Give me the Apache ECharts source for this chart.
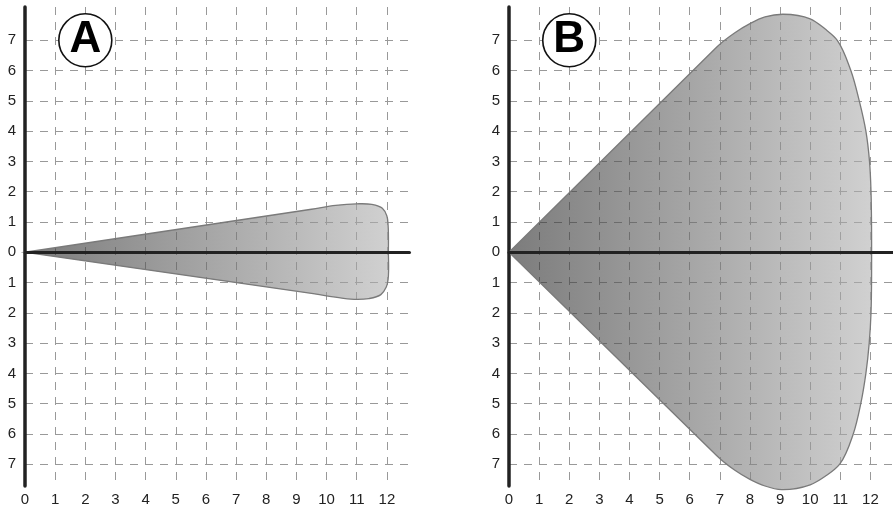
<!DOCTYPE html>
<html><head><meta charset="utf-8">
<script src="https://cdn.jsdelivr.net/npm/echarts@6/dist/echarts.min.js"></script>
<style>html,body{margin:0;padding:0;background:#fff}#c{width:893px;height:507px}</style>
</head><body><div id="c"></div>
<script>
// ---- data ----
const xTickValues = [0,1,2,3,4,5,6,7,8,9,10,11,12];
const yTickValues = [-7,-6,-5,-4,-3,-2,-1,0,1,2,3,4,5,6,7];
const panelLetters = ['A','B'];
const badgeAt = [2, 7];
// outline of shape A: origin -> upper edge -> right end -> lower edge (closes back to origin)
const aOutlineX = [0, 9.5, 10.3, 11.0, 11.5, 11.85, 12.0, 12.04, 12.05, 12.04, 11.98, 11.8, 11.4, 10.8, 10.0, 9.5];
const aOutlineY = [0, 1.42, 1.55, 1.60, 1.58, 1.45, 1.20, 0.90, 0, -0.90, -1.15, -1.40, -1.53, -1.55, -1.44, -1.36];
// outline of shape B
const bOutlineX = [0, 6.9, 7.5, 8.0, 8.5, 9.1, 10.0, 10.5, 10.9, 11.35, 11.63, 11.85, 11.97, 12.02, 12.04, 12.02, 11.96, 11.85, 11.68, 11.43, 10.98, 10.5, 10.0, 9.05, 8.5, 8.0, 7.5, 6.9];
const bOutlineY = [0, 6.78, 7.25, 7.55, 7.77, 7.86, 7.71, 7.37, 7.0, 6.0, 5.0, 4.0, 3.0, 2.0, 0, -2.0, -3.0, -4.0, -5.0, -6.0, -7.0, -7.40, -7.68, -7.84, -7.72, -7.50, -7.20, -6.72];

// ---- rendering helpers ----
const FONT = 'Liberation Sans, Arial, Helvetica, sans-serif';
const gridColor = '#999999';
function sub(a,b){return [a[0]-b[0],a[1]-b[1]];}
function add(a,b){return [a[0]+b[0],a[1]+b[1]];}
function len(a){return Math.sqrt(a[0]*a[0]+a[1]*a[1]);}
function unit(a){const l=len(a)||1;return [a[0]/l,a[1]/l];}
function makeShape(xs, ys) {
  return function (params, api) {
    if (params.dataIndex !== 0) return null;
    const p = xs.map((x, i) => api.coord([x, ys[i]]));
    const n = p.length;
    const U = [];
    for (let i = 1; i < n; i++) {
      if (i === 1) U[i] = unit(sub(p[1], p[0]));
      else if (i === n - 1) U[i] = unit(sub(p[0], p[n-1]));
      else U[i] = unit(add(unit(sub(p[i], p[i-1])), unit(sub(p[i+1], p[i]))));
    }
    let d = 'M' + p[0][0] + ',' + p[0][1] + ' L' + p[1][0] + ',' + p[1][1];
    for (let i = 1; i < n - 1; i++) {
      const a = p[i], b = p[i+1];
      const s = len(sub(b, a)) / 3;
      d += ' C' + (a[0]+U[i][0]*s) + ',' + (a[1]+U[i][1]*s) + ' ' +
           (b[0]-U[i+1][0]*s) + ',' + (b[1]-U[i+1][1]*s) + ' ' + b[0] + ',' + b[1];
    }
    d += ' Z';
    return {
      type: 'path',
      shape: { pathData: d },
      style: {
        fill: { type: 'linear', x: 0, y: 0, x2: 1, y2: 0, colorStops: [
          { offset: 0, color: 'rgba(36,36,36,0.6)' },
          { offset: 0.5, color: 'rgba(106,106,106,0.6)' },
          { offset: 1, color: 'rgba(178,178,178,0.6)' }
        ]},
        stroke: '#7a7a7a',
        lineWidth: 1.3
      }
    };
  };
}

const grids = [
  { left: 25, top: 7, width: 384.5, height: 479 },
  { left: 509, top: 7, width: 384.5, height: 479 }
];
const xAxes = [], yAxes = [], series = [];
const outlines = [[aOutlineX, aOutlineY], [bOutlineX, bOutlineY]];
for (let g = 0; g < 2; g++) {
  xAxes.push({
    gridIndex: g, type: 'value', min: 0, max: 12.75, position: 'bottom',
    axisLine: { show: false, onZero: false },
    axisTick: { show: true, customValues: xTickValues, length: 1, lineStyle: { color: 'rgba(0,0,0,0)' } },
    axisLabel: { customValues: xTickValues, fontSize: 15, color: '#222', margin: 6, fontFamily: FONT },
    splitLine: { show: true, lineStyle: { color: gridColor, width: 1, type: [8, 7] } }
  });
  xAxes.push({
    gridIndex: g, type: 'value', min: 0, max: 12.75, z: 10, position: 'bottom',
    axisLine: { show: true, onZero: true, onZeroAxisIndex: g, lineStyle: { color: '#222', width: 3 } },
    axisTick: { show: false }, axisLabel: { show: false }, splitLine: { show: false }
  });
  yAxes.push({
    gridIndex: g, type: 'value', min: -7.72, max: 8.1, position: 'left',
    axisLine: { show: true, onZero: false, lineStyle: { color: '#222', width: 3.5 } },
    axisTick: { show: true, customValues: yTickValues, length: 1, lineStyle: { color: 'rgba(0,0,0,0)' } },
    axisLabel: { customValues: yTickValues, formatter: v => String(Math.abs(v)), fontSize: 15, color: '#222', margin: 9, fontFamily: FONT },
    splitLine: { show: true, lineStyle: { color: gridColor, width: 1, type: [8, 7] } }
  });
  const xs = outlines[g][0], ys = outlines[g][1];
  series.push({
    type: 'custom', coordinateSystem: 'cartesian2d', xAxisIndex: g * 2, yAxisIndex: g,
    data: xs.map((x, i) => [x, ys[i]]),
    renderItem: makeShape(xs, ys), z: 2, silent: true
  });
  series.push({
    type: 'scatter', xAxisIndex: g * 2, yAxisIndex: g, z: 5, silent: true,
    data: [badgeAt], symbol: 'circle', symbolSize: 53,
    itemStyle: { color: '#fff', borderColor: '#111', borderWidth: 1.6, opacity: 1 },
    label: { show: true, position: 'inside', formatter: panelLetters[g], fontSize: 44, fontWeight: 'bold', color: '#000', fontFamily: FONT }
  });
}

const chart = echarts.init(document.getElementById('c'), null, { renderer: 'canvas' });
chart.setOption({
  animation: false,
  backgroundColor: '#fff',
  grid: grids,
  xAxis: xAxes,
  yAxis: yAxes,
  series: series
});
</script>
</body></html>
